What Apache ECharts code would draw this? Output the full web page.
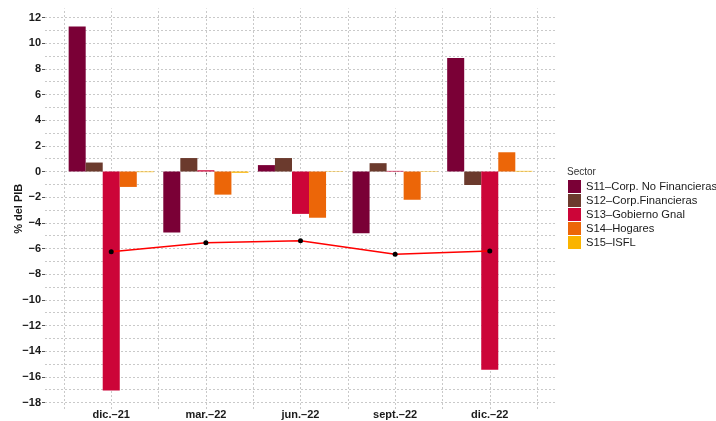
<!DOCTYPE html>
<html>
<head>
<meta charset="utf-8">
<script src="https://cdn.jsdelivr.net/npm/echarts@6/dist/echarts.min.js"></script>
<style>
  html, body { margin: 0; padding: 0; background: #fff; }
  #main-chart { width: 716px; height: 421px; }
</style>
</head>
<body>
<div id="main-chart"></div>
<script>
// datos (% del PIB)
const periods = ['dic.–21', 'mar.–22', 'jun.–22', 'sept.–22', 'dic.–22'];
const sectors = ['S11–Corp. No Financieras', 'S12–Corp.Financieras', 'S13–Gobierno Gnal', 'S14–Hogares', 'S15–ISFL'];
const s11 = [11.3, -4.75, 0.5, -4.8, 8.85];
const s12 = [0.7, 1.05, 1.05, 0.65, -1.05];
const s13 = [-17.05, 0.1, -3.3, 0.05, -15.45];
const s14 = [-1.2, -1.8, -3.6, -2.2, 1.5];
const s15 = [-0.05, -0.1, 0.03, 0.03, 0.05];
const total = [-6.25, -5.55, -5.4, -6.45, -6.2];
const yTicks = [-18, -16, -14, -12, -10, -8, -6, -4, -2, 0, 2, 4, 6, 8, 10, 12];
const yMinor = [-17, -15, -13, -11, -9, -7, -5, -3, -1, 1, 3, 5, 7, 9, 11];
const xMinor = [0.5, 1.5, 2.5, 3.5, 4.5, 5.5];

const colors = ['#7a0036', '#6b3a2d', '#cc0538', '#ec6608', '#fab400'];
const values = [s11, s12, s13, s14, s15];
const xPos = periods.map((p, i) => i + 1);

const gridStyle = { color: '#c9c9c9', type: [2, 2], width: 1 };
const fontFam = '"Liberation Sans", Arial, sans-serif';

let myChart = echarts.init(document.getElementById('main-chart'), null, { renderer: 'canvas' });

let barSeries = sectors.map((name, k) => ({
  name: name,
  type: 'bar',
  barWidth: '18%',
  barGap: '0%',
  itemStyle: { color: colors[k] },
  data: values[k].map((v, i) => [xPos[i], v]),
  z: 3
}));

let option = {
  animation: false,
  backgroundColor: '#fff',
  textStyle: { fontFamily: fontFam },
  title: {
    text: 'Sector',
    left: 567,
    top: 167,
    padding: 0,
    textStyle: { fontSize: 10, fontWeight: 'normal', color: '#333', fontFamily: fontFam }
  },
  legend: {
    data: sectors,
    orient: 'vertical',
    left: 568,
    top: 180,
    padding: 0,
    icon: 'rect',
    itemWidth: 13,
    itemHeight: 13,
    itemGap: 1,
    textStyle: { fontSize: 11.2, color: '#1a1a1a', fontFamily: fontFam }
  },
  grid: {
    left: 45,
    right: 160,
    top: 8.5,
    bottom: 12,
    outerBoundsMode: 'none'
  },
  xAxis: {
    type: 'value',
    min: 0.3,
    max: 5.7,
    axisLine: { show: false },
    splitLine: { show: false },
    axisTick: { show: true, length: 3, customValues: xPos, lineStyle: { color: '#555' } },
    axisLabel: {
      customValues: xPos,
      margin: 0,
      fontSize: 11,
      fontWeight: 'bold',
      color: '#1a1a1a',
      formatter: (v) => periods[Math.round(v) - 1] || ''
    }
  },
  yAxis: {
    type: 'value',
    min: -18.5,
    max: 12.7,
    name: '% del PIB',
    nameLocation: 'middle',
    nameGap: 21,
    nameMoveOverlap: false,
    nameTextStyle: { fontSize: 11, fontWeight: 'bold', color: '#1a1a1a' },
    axisLine: { show: false },
    splitLine: { show: false },
    axisTick: { show: true, length: 3, customValues: yTicks, lineStyle: { color: '#555' } },
    axisLabel: {
      customValues: yTicks,
      margin: 4,
      fontSize: 11,
      fontWeight: 'bold',
      color: '#1a1a1a',
      formatter: (v) => String(v).replace('-', '−')
    }
  },
  series: [
    {
      name: 'grid',
      type: 'line',
      data: [],
      silent: true,
      z: 1,
      markLine: {
        silent: true,
        z: 1,
        symbol: ['none', 'none'],
        label: { show: false },
        lineStyle: gridStyle,
        data: yTicks.concat(yMinor).map(v => ({ yAxis: v }))
          .concat(xPos.concat(xMinor).map(v => ({ xAxis: v })))
      }
    },
    ...barSeries,
    {
      name: 'Total',
      type: 'line',
      data: total.map((v, i) => [xPos[i], v]),
      symbol: 'circle',
      symbolSize: 5,
      lineStyle: { color: '#ff0000', width: 1.5 },
      itemStyle: { color: '#000' },
      z: 5
    }
  ]
};
myChart.setOption(option);
</script>
</body>
</html>
